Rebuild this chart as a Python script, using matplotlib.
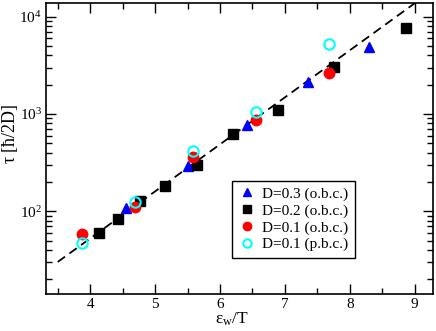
import numpy as np
from matplotlib import pyplot as plt
from matplotlib.ticker import LogLocator, MultipleLocator, NullFormatter

plt.rcParams['font.family'] = ['Liberation Serif', 'DejaVu Serif']
plt.rcParams['mathtext.fontset'] = 'stix'

# data
x_d03 = [4.55, 5.50, 6.42, 7.35, 8.29]
y_d03 = [108, 291, 776, 2120, 4860]

x_d02 = [4.14, 4.435, 4.77, 5.16, 5.64, 6.20, 6.89, 7.75, 8.86]
y_d02 = [60, 83, 129, 184, 296, 622, 1107, 3020, 7700]

x_d01o = [3.88, 4.69, 5.58, 6.55, 7.68]
y_d01o = [58, 111, 363, 874, 2620]

x_d01p = [3.88, 4.69, 5.58, 6.55, 7.68]
y_d01p = [47, 125, 419, 1057, 5180]

# dashed fit line: log10(tau) = fit_a + fit_b * x
fit_a = -0.210
fit_b = 0.483

fig = plt.figure(figsize=(4.36, 3.31), dpi=100)
ax = fig.add_axes([0.1055, 0.112, 0.8875, 0.879])

xf = np.linspace(3.5, 9.3, 100)
ax.plot(xf, 10 ** (fit_a + fit_b * xf), 'k--', lw=1.3, dashes=(5, 3))

ax.plot(x_d03, y_d03, '^', color='blue', ms=7.5, ls='none', label='D=0.3 (o.b.c.)')
ax.plot(x_d02, y_d02, 's', color='black', ms=7, ls='none', label='D=0.2 (o.b.c.)')
ax.plot(x_d01o, y_d01o, 'o', color='red', ms=7.5, ls='none', label='D=0.1 (o.b.c.)')
ax.plot(x_d01p, y_d01p, 'o', mfc='none', mec='cyan', mew=1.5, ms=7.5, ls='none',
        label='D=0.1 (p.b.c.)')

ax.set_yscale('log')
ax.set_xlim(3.32, 9.28)
ax.set_ylim(14.2, 13800)

ax.xaxis.set_major_locator(MultipleLocator(1))
ax.xaxis.set_minor_locator(MultipleLocator(0.5))
ax.yaxis.set_major_locator(LogLocator(base=10))
ax.yaxis.set_minor_locator(LogLocator(base=10, subs=np.arange(2, 10)))
ax.yaxis.set_minor_formatter(NullFormatter())

ax.tick_params(which='both', direction='in', top=True, right=True, labelsize=11)
ax.tick_params(which='major', length=7, width=1, pad=3)
ax.tick_params(which='minor', length=4, width=1)
for s in ax.spines.values():
    s.set_linewidth(1.2)

ax.set_xlabel(r'$\mathregular{\varepsilon_w}$/T', fontsize=12.5)
ax.set_ylabel(r'$\mathregular{\tau}$ [$\mathregular{\hbar}$/2D]', fontsize=13)
ax.xaxis.set_label_coords(0.48, -0.058)
ax.yaxis.set_label_coords(-0.068, 0.55)

leg = ax.legend(loc='lower left', bbox_to_anchor=(0.48, 0.125), fontsize=11,
                frameon=True, fancybox=False, edgecolor='black', framealpha=1,
                handletextpad=0.4, borderpad=0.4, labelspacing=0.2,
                handlelength=1.2, borderaxespad=0)
leg.get_frame().set_linewidth(1.0)
for h in leg.legend_handles:
    h.set_markersize(6)

fig.savefig('out.png', dpi=100)
